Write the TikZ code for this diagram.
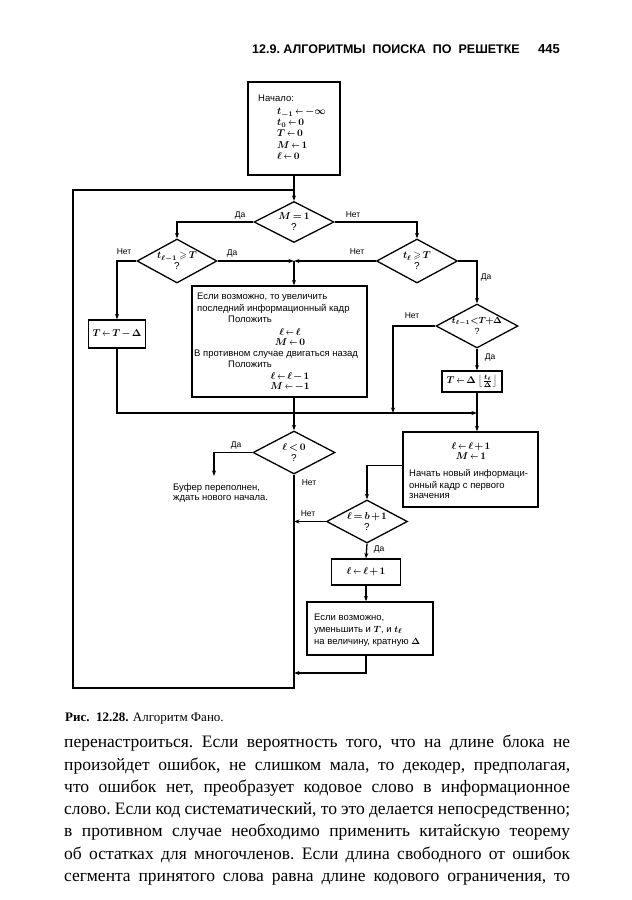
\documentclass[tikz,border=0pt]{standalone}
\usepackage{amssymb}
\usepackage{fontspec}
\setmainfont{Liberation Serif}
\newfontfamily\fcfont{Liberation Sans}
\usetikzlibrary{shapes.geometric,arrows.meta}
\newcommand\sla{\mathrel{\scalebox{0.7}[1]{$\leftarrow$}}}
\newcommand\tightm{\medmuskip=2mu\thickmuskip=3mu}
\tikzset{
  ln/.style={line width=1.3pt},
  arr/.style={line width=1.3pt,-{Stealth[length=5.5pt,width=4pt]}},
  boxn/.style={draw,line width=1.3pt,inner sep=0pt},
  mfont/.style={font=\fcfont\fontsize{10}{10.4}\selectfont\boldmath\tightm},
  dec/.style={draw,diamond,line width=1.3pt,inner sep=0pt,align=center,
    font=\fcfont\fontsize{10}{11}\selectfont\boldmath\tightm},
  lab/.style={font=\fcfont\fontsize{8.5}{9}\selectfont,inner sep=0pt},
  ft/.style={font=\fcfont\fontsize{9.5}{10}\selectfont\boldmath\tightm,inner sep=0pt,anchor=base west},
  fm/.style={mfont,inner sep=0pt,align=center},
}
\begin{document}
\begin{tikzpicture}[x=1pt,y=-1pt]
\useasboundingbox (0,0) rectangle (632,900);
% header
\node[anchor=base west,inner sep=0pt,font=\fcfont\bfseries\fontsize{12.5}{14}\selectfont] (hd) at (252,53) {12.9.\ АЛГОРИТМЫ\ \ ПОИСКА\ \ ПО\ \ РЕШЕТКЕ};
\node[anchor=base west,inner sep=0pt,font=\fcfont\bfseries\fontsize{13}{14}\selectfont] (pg) at (538,53) {445};

% start box
\node[boxn,minimum width=92pt,minimum height=93pt] (start) at (294,128.5) {};
\node[ft] (s0) at (258,101) {Начало:};
\node[font=\fcfont\fontsize{10}{11.2}\selectfont\boldmath\tightm,inner sep=0pt,align=left,anchor=north west] (s1) at (277,108)
  {$t_{-1}\sla-\infty$\\$t_0\sla0$\\$T\sla0$\\$M\sla1$\\$\ell\sla0$};

% decisions
\node[dec,minimum width=80pt,minimum height=41pt] (d1) at (294,222) {\makebox[0pt]{$M=1$}\\?};
\node[dec,minimum width=80pt,minimum height=44pt] (d2) at (177,261) {\makebox[0pt]{$t_{\ell-1}\geqslant T$}\\?};
\node[dec,minimum width=81pt,minimum height=44pt] (d3) at (417,261) {\makebox[0pt]{$t_{\ell}\geqslant T$}\\?};
\node[dec,minimum width=82pt,minimum height=44pt,font=\fcfont\fontsize{9}{10.5}\selectfont\boldmath\tightm] (d4) at (477,326) {\makebox[0pt]{$t_{\ell-1}\!<\!T\!+\!\Delta$}\\?};
\node[dec,minimum width=82pt,minimum height=43pt] (d5) at (294,452.5) {\makebox[0pt]{$\ell<0$}\\?};
\node[dec,minimum width=81pt,minimum height=43pt] (d6) at (367,521.5) {\makebox[0pt]{$\ell=b+1$}\\?};

% boxes
\node[boxn,minimum width=57pt,minimum height=28pt,mfont] (bT) at (117,334) {$T\sla T-\Delta$};
\node[boxn,minimum width=175pt,minimum height=111pt] (bBig) at (279.5,341.5) {};
\node[boxn,minimum width=60pt,minimum height=21pt,mfont] (bT2) at (472,381.5) {$T\sla\Delta\left\lfloor\frac{t_\ell}{\Delta}\right\rfloor$};
\node[boxn,minimum width=135pt,minimum height=75pt] (bNew) at (470.5,469.5) {};
\node[boxn,minimum width=69pt,minimum height=26pt,mfont] (bInc) at (366,572) {$\ell\sla\ell+1$};
\node[boxn,minimum width=126pt,minimum height=53pt] (bLast) at (370,628.5) {};

% big box text
\node[ft] (b1) at (197,299) {Если возможно, то увеличить};
\node[ft] (b2) at (197,311) {последний информационный кадр};
\node[ft] (b3) at (228,322) {Положить};
\node[fm] (b4) at (290,337) {$\ell\sla\ell$\\$M\sla0$};
\node[ft] (b6) at (194,356) {В противном случае двигаться назад};
\node[ft] (b7) at (228,367) {Положить};
\node[fm] (b8) at (290,381.5) {$\ell\sla\ell-1$\\$M\sla-1$};

% new frame box text
\node[fm] (n1) at (471,451) {$\ell\sla\ell+1$\\$M\sla1$};
\node[ft] (n3) at (409,476) {Начать новый информаци-};
\node[ft] (n4) at (409,488) {онный кадр с первого};
\node[ft] (n5) at (409,498) {значения};

% last box text
\node[ft] (l1) at (314,620) {Если возможно,};
\node[ft] (l2) at (314,632) {уменьшить и $T$, и $t_\ell$};
\node[ft] (l3) at (314,644) {на величину, кратную $\Delta$};

% buffer text
\node[ft] (buf1) at (173,490) {Буфер переполнен,};
\node[ft] (buf2) at (173,500) {ждать нового начала.};

% coordinates
\coordinate (j1) at (294,261);
\coordinate (j2) at (393,413);
\coordinate (j3) at (477,413);
\coordinate (j4) at (214,476);
\coordinate (lb) at (73,688);
\coordinate (lt) at (73,190);
\coordinate (jt) at (294,190);
\coordinate (r673) at (0,673);

% connectors
\draw[arr] (start.south) -- (d1.north);
\draw[ln] (d5.south) |- (lb) -- (lt) -- (jt);
\draw[arr] (d1.west) -| (d2.north);
\draw[arr] (d1.east) -| (d3.north);
\draw[arr] (d2.west) -| (bT.north);
\draw[arr] (d2.east) -- (j1);
\draw[arr] (d3.west) -- (j1);
\draw[arr] (j1) -- (j1 |- bBig.north);
\draw[arr] (d3.east) -| (d4.north);
\draw[arr] (d4.west) -| (j2);
\draw[arr] (d4.south) -- (d4.south |- bT2.north);
\draw[arr] (d4.south |- bT2.south) -- (d4.south |- bNew.north);
\draw[arr] (bT.south) |- (j3);
\draw[arr] (j1 |- bBig.south) -- (d5.north);
\draw[arr] (d5.west) -| (j4);
\draw[arr] ([yshift=4pt]bNew.west) -| (d6.north);
\draw[arr] (d6.west) -- (d6.west -| d5.south);
\draw[arr] (d6.south) -- (bInc.north);
\draw[arr] (bInc.south) -- (bInc.south |- bLast.north);
\draw[arr] (bInc.south |- bLast.south) |- (d5.south |- r673);

% labels
\node[lab] (y1) at (240,215) {Да};
\node[lab] (n1l) at (353,215) {Нет};
\node[lab] (n2l) at (124,252) {Нет};
\node[lab] (y2) at (232,253) {Да};
\node[lab] (n3l) at (357,252) {Нет};
\node[lab] (y3) at (486,277) {Да};
\node[lab] (n4l) at (412,316) {Нет};
\node[lab] (y4) at (490,357) {Да};
\node[lab] (y5) at (236,445) {Да};
\node[lab] (n5l) at (309,483) {Нет};
\node[lab] (n6l) at (308,514) {Нет};
\node[lab] (y6) at (379,549) {Да};

% caption
\node[anchor=base west,inner sep=0pt,font=\fontsize{13}{15}\selectfont] (cap) at (65,721) {\textbf{Рис.\ \ 12.28.} Алгоритм Фано.};

% body text
\node[anchor=north west,inner sep=0pt] (body) at (64,735) {\parbox{506pt}{\fontsize{17.5}{22.3}\selectfont\frenchspacing\parfillskip=0pt\noindent
перенастроиться. Если вероятность того, что на длине блока не\linebreak
произойдет ошибок, не слишком мала, то декодер, предполагая,\linebreak
что ошибок нет, преобразует кодовое слово в информационное\linebreak
слово. Если код систематический, то это делается непосредственно;\linebreak
в противном случае необходимо применить китайскую теорему\linebreak
об остатках для многочленов. Если длина свободного от ошибок\linebreak
сегмента принятого слова равна длине кодового ограничения, то}};
\end{tikzpicture}
\end{document}
